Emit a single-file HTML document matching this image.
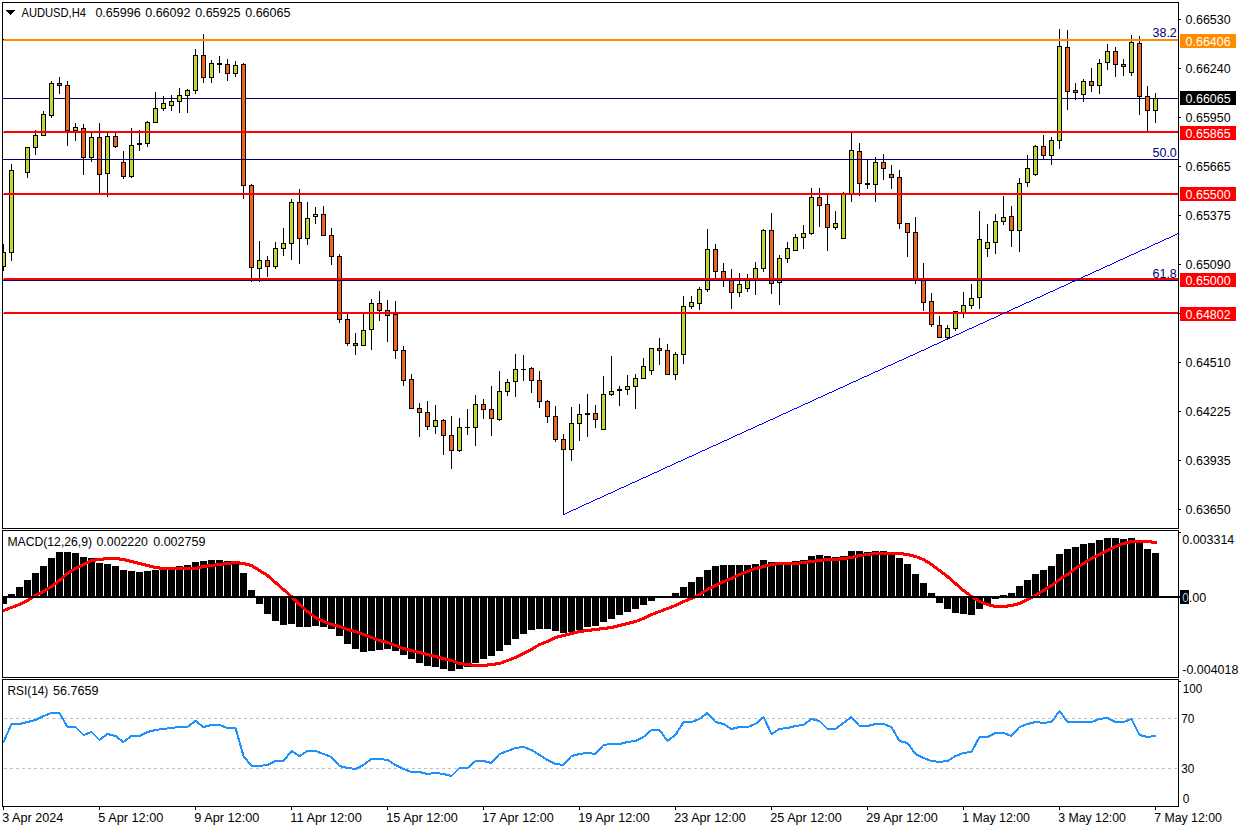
<!DOCTYPE html>
<html><head><meta charset="utf-8"><title>AUDUSD,H4</title>
<style>
html,body{margin:0;padding:0;background:#fff;}
body{width:1242px;height:830px;overflow:hidden;}
svg{display:block;}
svg text{font-family:"Liberation Sans",sans-serif;}
</style></head>
<body>
<svg width="1242" height="830" viewBox="0 0 1242 830" shape-rendering="crispEdges">
<rect x="0" y="0" width="1242" height="830" fill="#FFFFFF"/>
<defs><clipPath id="cm"><rect x="3" y="3" width="1175" height="525"/></clipPath><clipPath id="cmacd"><rect x="3" y="531" width="1175" height="146"/></clipPath><clipPath id="crsi"><rect x="3" y="680" width="1175" height="126"/></clipPath></defs>
<g clip-path="url(#cm)">
<rect x="3" y="98" width="1175" height="1" fill="#000080"/>
<rect x="3" y="244" width="1" height="27" fill="#000"/>
<rect x="1" y="252" width="5" height="15" fill="#000"/>
<rect x="2" y="253" width="3" height="13" fill="#BFD72F"/>
<rect x="11" y="164" width="1" height="97" fill="#000"/>
<rect x="9" y="170" width="5" height="83" fill="#000"/>
<rect x="10" y="171" width="3" height="81" fill="#BFD72F"/>
<rect x="27" y="147" width="1" height="31" fill="#000"/>
<rect x="25" y="147" width="5" height="26" fill="#000"/>
<rect x="26" y="148" width="3" height="24" fill="#BFD72F"/>
<rect x="35" y="130" width="1" height="25" fill="#000"/>
<rect x="33" y="135" width="5" height="13" fill="#000"/>
<rect x="34" y="136" width="3" height="11" fill="#BFD72F"/>
<rect x="43" y="111" width="1" height="24" fill="#000"/>
<rect x="41" y="114" width="5" height="22" fill="#000"/>
<rect x="42" y="115" width="3" height="20" fill="#BFD72F"/>
<rect x="51" y="81" width="1" height="37" fill="#000"/>
<rect x="49" y="83" width="5" height="33" fill="#000"/>
<rect x="50" y="84" width="3" height="31" fill="#BFD72F"/>
<rect x="59" y="77" width="1" height="17" fill="#000"/>
<rect x="57" y="83" width="5" height="3" fill="#000"/>
<rect x="58" y="84" width="3" height="1" fill="#F26321"/>
<rect x="67" y="81" width="1" height="65" fill="#000"/>
<rect x="65" y="85" width="5" height="46" fill="#000"/>
<rect x="66" y="86" width="3" height="44" fill="#F26321"/>
<rect x="75" y="123" width="1" height="18" fill="#000"/>
<rect x="73" y="127" width="5" height="4" fill="#000"/>
<rect x="74" y="128" width="3" height="2" fill="#BFD72F"/>
<rect x="83" y="124" width="1" height="51" fill="#000"/>
<rect x="81" y="128" width="5" height="30" fill="#000"/>
<rect x="82" y="129" width="3" height="28" fill="#F26321"/>
<rect x="91" y="133" width="1" height="29" fill="#000"/>
<rect x="89" y="137" width="5" height="21" fill="#000"/>
<rect x="90" y="138" width="3" height="19" fill="#BFD72F"/>
<rect x="99" y="123" width="1" height="70" fill="#000"/>
<rect x="97" y="137" width="5" height="38" fill="#000"/>
<rect x="98" y="138" width="3" height="36" fill="#F26321"/>
<rect x="107" y="133" width="1" height="64" fill="#000"/>
<rect x="105" y="136" width="5" height="38" fill="#000"/>
<rect x="106" y="137" width="3" height="36" fill="#BFD72F"/>
<rect x="115" y="133" width="1" height="15" fill="#000"/>
<rect x="113" y="136" width="5" height="11" fill="#000"/>
<rect x="114" y="137" width="3" height="9" fill="#F26321"/>
<rect x="123" y="151" width="1" height="28" fill="#000"/>
<rect x="121" y="162" width="5" height="15" fill="#000"/>
<rect x="122" y="163" width="3" height="13" fill="#F26321"/>
<rect x="131" y="128" width="1" height="50" fill="#000"/>
<rect x="129" y="145" width="5" height="32" fill="#000"/>
<rect x="130" y="146" width="3" height="30" fill="#BFD72F"/>
<rect x="139" y="130" width="1" height="21" fill="#000"/>
<rect x="137" y="143" width="5" height="2" fill="#000"/>
<rect x="147" y="121" width="1" height="26" fill="#000"/>
<rect x="145" y="122" width="5" height="22" fill="#000"/>
<rect x="146" y="123" width="3" height="20" fill="#BFD72F"/>
<rect x="155" y="92" width="1" height="31" fill="#000"/>
<rect x="153" y="108" width="5" height="15" fill="#000"/>
<rect x="154" y="109" width="3" height="13" fill="#BFD72F"/>
<rect x="163" y="96" width="1" height="15" fill="#000"/>
<rect x="161" y="103" width="5" height="6" fill="#000"/>
<rect x="162" y="104" width="3" height="4" fill="#BFD72F"/>
<rect x="171" y="95" width="1" height="16" fill="#000"/>
<rect x="169" y="101" width="5" height="5" fill="#000"/>
<rect x="170" y="102" width="3" height="3" fill="#BFD72F"/>
<rect x="179" y="88" width="1" height="25" fill="#000"/>
<rect x="177" y="95" width="5" height="7" fill="#000"/>
<rect x="178" y="96" width="3" height="5" fill="#BFD72F"/>
<rect x="187" y="89" width="1" height="24" fill="#000"/>
<rect x="185" y="90" width="5" height="6" fill="#000"/>
<rect x="186" y="91" width="3" height="4" fill="#BFD72F"/>
<rect x="195" y="49" width="1" height="45" fill="#000"/>
<rect x="193" y="55" width="5" height="36" fill="#000"/>
<rect x="194" y="56" width="3" height="34" fill="#BFD72F"/>
<rect x="203" y="34" width="1" height="49" fill="#000"/>
<rect x="201" y="55" width="5" height="23" fill="#000"/>
<rect x="202" y="56" width="3" height="21" fill="#F26321"/>
<rect x="211" y="60" width="1" height="23" fill="#000"/>
<rect x="209" y="63" width="5" height="15" fill="#000"/>
<rect x="210" y="64" width="3" height="13" fill="#BFD72F"/>
<rect x="219" y="56" width="1" height="17" fill="#000"/>
<rect x="217" y="63" width="5" height="2" fill="#000"/>
<rect x="227" y="59" width="1" height="22" fill="#000"/>
<rect x="225" y="64" width="5" height="10" fill="#000"/>
<rect x="226" y="65" width="3" height="8" fill="#F26321"/>
<rect x="235" y="61" width="1" height="16" fill="#000"/>
<rect x="233" y="65" width="5" height="9" fill="#000"/>
<rect x="234" y="66" width="3" height="7" fill="#BFD72F"/>
<rect x="243" y="63" width="1" height="136" fill="#000"/>
<rect x="241" y="64" width="5" height="122" fill="#000"/>
<rect x="242" y="65" width="3" height="120" fill="#F26321"/>
<rect x="251" y="184" width="1" height="98" fill="#000"/>
<rect x="249" y="185" width="5" height="83" fill="#000"/>
<rect x="250" y="186" width="3" height="81" fill="#F26321"/>
<rect x="259" y="241" width="1" height="41" fill="#000"/>
<rect x="257" y="260" width="5" height="9" fill="#000"/>
<rect x="258" y="261" width="3" height="7" fill="#BFD72F"/>
<rect x="267" y="256" width="1" height="21" fill="#000"/>
<rect x="265" y="260" width="5" height="7" fill="#000"/>
<rect x="266" y="261" width="3" height="5" fill="#F26321"/>
<rect x="275" y="242" width="1" height="27" fill="#000"/>
<rect x="273" y="248" width="5" height="19" fill="#000"/>
<rect x="274" y="249" width="3" height="17" fill="#BFD72F"/>
<rect x="283" y="228" width="1" height="28" fill="#000"/>
<rect x="281" y="243" width="5" height="6" fill="#000"/>
<rect x="282" y="244" width="3" height="4" fill="#BFD72F"/>
<rect x="291" y="199" width="1" height="61" fill="#000"/>
<rect x="289" y="202" width="5" height="42" fill="#000"/>
<rect x="290" y="203" width="3" height="40" fill="#BFD72F"/>
<rect x="299" y="189" width="1" height="75" fill="#000"/>
<rect x="297" y="202" width="5" height="37" fill="#000"/>
<rect x="298" y="203" width="3" height="35" fill="#F26321"/>
<rect x="307" y="202" width="1" height="43" fill="#000"/>
<rect x="305" y="218" width="5" height="21" fill="#000"/>
<rect x="306" y="219" width="3" height="19" fill="#BFD72F"/>
<rect x="315" y="207" width="1" height="17" fill="#000"/>
<rect x="313" y="214" width="5" height="3" fill="#000"/>
<rect x="314" y="215" width="3" height="1" fill="#BFD72F"/>
<rect x="323" y="206" width="1" height="29" fill="#000"/>
<rect x="321" y="214" width="5" height="22" fill="#000"/>
<rect x="322" y="215" width="3" height="20" fill="#F26321"/>
<rect x="331" y="228" width="1" height="37" fill="#000"/>
<rect x="329" y="235" width="5" height="22" fill="#000"/>
<rect x="330" y="236" width="3" height="20" fill="#F26321"/>
<rect x="339" y="254" width="1" height="69" fill="#000"/>
<rect x="337" y="256" width="5" height="64" fill="#000"/>
<rect x="338" y="257" width="3" height="62" fill="#F26321"/>
<rect x="347" y="314" width="1" height="32" fill="#000"/>
<rect x="345" y="319" width="5" height="25" fill="#000"/>
<rect x="346" y="320" width="3" height="23" fill="#F26321"/>
<rect x="355" y="333" width="1" height="22" fill="#000"/>
<rect x="353" y="343" width="5" height="3" fill="#000"/>
<rect x="354" y="344" width="3" height="1" fill="#F26321"/>
<rect x="363" y="314" width="1" height="31" fill="#000"/>
<rect x="361" y="330" width="5" height="16" fill="#000"/>
<rect x="362" y="331" width="3" height="14" fill="#BFD72F"/>
<rect x="371" y="299" width="1" height="51" fill="#000"/>
<rect x="369" y="303" width="5" height="27" fill="#000"/>
<rect x="370" y="304" width="3" height="25" fill="#BFD72F"/>
<rect x="379" y="291" width="1" height="30" fill="#000"/>
<rect x="377" y="303" width="5" height="8" fill="#000"/>
<rect x="378" y="304" width="3" height="6" fill="#F26321"/>
<rect x="387" y="300" width="1" height="42" fill="#000"/>
<rect x="385" y="310" width="5" height="6" fill="#000"/>
<rect x="386" y="311" width="3" height="4" fill="#F26321"/>
<rect x="395" y="301" width="1" height="58" fill="#000"/>
<rect x="393" y="314" width="5" height="37" fill="#000"/>
<rect x="394" y="315" width="3" height="35" fill="#F26321"/>
<rect x="403" y="346" width="1" height="40" fill="#000"/>
<rect x="401" y="350" width="5" height="31" fill="#000"/>
<rect x="402" y="351" width="3" height="29" fill="#F26321"/>
<rect x="411" y="374" width="1" height="34" fill="#000"/>
<rect x="409" y="379" width="5" height="30" fill="#000"/>
<rect x="410" y="380" width="3" height="28" fill="#F26321"/>
<rect x="419" y="403" width="1" height="34" fill="#000"/>
<rect x="417" y="408" width="5" height="5" fill="#000"/>
<rect x="418" y="409" width="3" height="3" fill="#F26321"/>
<rect x="427" y="401" width="1" height="29" fill="#000"/>
<rect x="425" y="412" width="5" height="15" fill="#000"/>
<rect x="426" y="413" width="3" height="13" fill="#F26321"/>
<rect x="435" y="405" width="1" height="29" fill="#000"/>
<rect x="433" y="420" width="5" height="7" fill="#000"/>
<rect x="434" y="421" width="3" height="5" fill="#BFD72F"/>
<rect x="443" y="419" width="1" height="36" fill="#000"/>
<rect x="441" y="420" width="5" height="16" fill="#000"/>
<rect x="442" y="421" width="3" height="14" fill="#F26321"/>
<rect x="451" y="416" width="1" height="53" fill="#000"/>
<rect x="449" y="435" width="5" height="16" fill="#000"/>
<rect x="450" y="436" width="3" height="14" fill="#F26321"/>
<rect x="459" y="418" width="1" height="34" fill="#000"/>
<rect x="457" y="427" width="5" height="24" fill="#000"/>
<rect x="458" y="428" width="3" height="22" fill="#BFD72F"/>
<rect x="467" y="409" width="1" height="26" fill="#000"/>
<rect x="465" y="427" width="5" height="1" fill="#000"/>
<rect x="475" y="395" width="1" height="51" fill="#000"/>
<rect x="473" y="404" width="5" height="24" fill="#000"/>
<rect x="474" y="405" width="3" height="22" fill="#BFD72F"/>
<rect x="483" y="399" width="1" height="20" fill="#000"/>
<rect x="481" y="404" width="5" height="6" fill="#000"/>
<rect x="482" y="405" width="3" height="4" fill="#F26321"/>
<rect x="491" y="386" width="1" height="50" fill="#000"/>
<rect x="489" y="409" width="5" height="10" fill="#000"/>
<rect x="490" y="410" width="3" height="8" fill="#F26321"/>
<rect x="499" y="371" width="1" height="50" fill="#000"/>
<rect x="497" y="391" width="5" height="29" fill="#000"/>
<rect x="498" y="392" width="3" height="27" fill="#BFD72F"/>
<rect x="507" y="379" width="1" height="17" fill="#000"/>
<rect x="505" y="382" width="5" height="10" fill="#000"/>
<rect x="506" y="383" width="3" height="8" fill="#BFD72F"/>
<rect x="515" y="354" width="1" height="43" fill="#000"/>
<rect x="513" y="369" width="5" height="13" fill="#000"/>
<rect x="514" y="370" width="3" height="11" fill="#BFD72F"/>
<rect x="523" y="355" width="1" height="26" fill="#000"/>
<rect x="521" y="369" width="5" height="1" fill="#000"/>
<rect x="531" y="367" width="1" height="26" fill="#000"/>
<rect x="529" y="368" width="5" height="13" fill="#000"/>
<rect x="530" y="369" width="3" height="11" fill="#F26321"/>
<rect x="539" y="371" width="1" height="37" fill="#000"/>
<rect x="537" y="380" width="5" height="22" fill="#000"/>
<rect x="538" y="381" width="3" height="20" fill="#F26321"/>
<rect x="547" y="400" width="1" height="23" fill="#000"/>
<rect x="545" y="401" width="5" height="16" fill="#000"/>
<rect x="546" y="402" width="3" height="14" fill="#F26321"/>
<rect x="555" y="406" width="1" height="36" fill="#000"/>
<rect x="553" y="416" width="5" height="24" fill="#000"/>
<rect x="554" y="417" width="3" height="22" fill="#F26321"/>
<rect x="563" y="434" width="1" height="81" fill="#000"/>
<rect x="561" y="439" width="5" height="11" fill="#000"/>
<rect x="562" y="440" width="3" height="9" fill="#F26321"/>
<rect x="571" y="407" width="1" height="54" fill="#000"/>
<rect x="569" y="423" width="5" height="27" fill="#000"/>
<rect x="570" y="424" width="3" height="25" fill="#BFD72F"/>
<rect x="579" y="404" width="1" height="37" fill="#000"/>
<rect x="577" y="414" width="5" height="10" fill="#000"/>
<rect x="578" y="415" width="3" height="8" fill="#BFD72F"/>
<rect x="587" y="394" width="1" height="43" fill="#000"/>
<rect x="585" y="413" width="5" height="2" fill="#000"/>
<rect x="595" y="405" width="1" height="23" fill="#000"/>
<rect x="593" y="413" width="5" height="7" fill="#000"/>
<rect x="594" y="414" width="3" height="5" fill="#F26321"/>
<rect x="603" y="376" width="1" height="54" fill="#000"/>
<rect x="601" y="394" width="5" height="36" fill="#000"/>
<rect x="602" y="395" width="3" height="34" fill="#BFD72F"/>
<rect x="611" y="356" width="1" height="40" fill="#000"/>
<rect x="609" y="391" width="5" height="4" fill="#000"/>
<rect x="610" y="392" width="3" height="2" fill="#BFD72F"/>
<rect x="619" y="386" width="1" height="20" fill="#000"/>
<rect x="617" y="389" width="5" height="2" fill="#000"/>
<rect x="627" y="375" width="1" height="20" fill="#000"/>
<rect x="625" y="386" width="5" height="4" fill="#000"/>
<rect x="626" y="387" width="3" height="2" fill="#BFD72F"/>
<rect x="635" y="374" width="1" height="35" fill="#000"/>
<rect x="633" y="378" width="5" height="9" fill="#000"/>
<rect x="634" y="379" width="3" height="7" fill="#BFD72F"/>
<rect x="643" y="358" width="1" height="21" fill="#000"/>
<rect x="641" y="366" width="5" height="13" fill="#000"/>
<rect x="642" y="367" width="3" height="11" fill="#BFD72F"/>
<rect x="651" y="348" width="1" height="27" fill="#000"/>
<rect x="649" y="348" width="5" height="23" fill="#000"/>
<rect x="650" y="349" width="3" height="21" fill="#BFD72F"/>
<rect x="659" y="338" width="1" height="27" fill="#000"/>
<rect x="657" y="348" width="5" height="3" fill="#000"/>
<rect x="658" y="349" width="3" height="1" fill="#F26321"/>
<rect x="667" y="344" width="1" height="31" fill="#000"/>
<rect x="665" y="350" width="5" height="25" fill="#000"/>
<rect x="666" y="351" width="3" height="23" fill="#F26321"/>
<rect x="675" y="352" width="1" height="28" fill="#000"/>
<rect x="673" y="354" width="5" height="21" fill="#000"/>
<rect x="674" y="355" width="3" height="19" fill="#BFD72F"/>
<rect x="683" y="296" width="1" height="68" fill="#000"/>
<rect x="681" y="306" width="5" height="49" fill="#000"/>
<rect x="682" y="307" width="3" height="47" fill="#BFD72F"/>
<rect x="691" y="296" width="1" height="13" fill="#000"/>
<rect x="689" y="302" width="5" height="5" fill="#000"/>
<rect x="690" y="303" width="3" height="3" fill="#BFD72F"/>
<rect x="699" y="287" width="1" height="23" fill="#000"/>
<rect x="697" y="289" width="5" height="15" fill="#000"/>
<rect x="698" y="290" width="3" height="13" fill="#BFD72F"/>
<rect x="707" y="229" width="1" height="63" fill="#000"/>
<rect x="705" y="249" width="5" height="41" fill="#000"/>
<rect x="706" y="250" width="3" height="39" fill="#BFD72F"/>
<rect x="715" y="244" width="1" height="34" fill="#000"/>
<rect x="713" y="249" width="5" height="23" fill="#000"/>
<rect x="714" y="250" width="3" height="21" fill="#F26321"/>
<rect x="723" y="263" width="1" height="24" fill="#000"/>
<rect x="721" y="271" width="5" height="8" fill="#000"/>
<rect x="722" y="272" width="3" height="6" fill="#F26321"/>
<rect x="731" y="269" width="1" height="40" fill="#000"/>
<rect x="729" y="280" width="5" height="13" fill="#000"/>
<rect x="730" y="281" width="3" height="11" fill="#F26321"/>
<rect x="739" y="273" width="1" height="24" fill="#000"/>
<rect x="737" y="284" width="5" height="9" fill="#000"/>
<rect x="738" y="285" width="3" height="7" fill="#BFD72F"/>
<rect x="747" y="274" width="1" height="18" fill="#000"/>
<rect x="745" y="280" width="5" height="9" fill="#000"/>
<rect x="746" y="281" width="3" height="7" fill="#BFD72F"/>
<rect x="755" y="262" width="1" height="33" fill="#000"/>
<rect x="753" y="268" width="5" height="11" fill="#000"/>
<rect x="754" y="269" width="3" height="9" fill="#BFD72F"/>
<rect x="763" y="229" width="1" height="43" fill="#000"/>
<rect x="761" y="230" width="5" height="39" fill="#000"/>
<rect x="762" y="231" width="3" height="37" fill="#BFD72F"/>
<rect x="771" y="213" width="1" height="81" fill="#000"/>
<rect x="769" y="230" width="5" height="54" fill="#000"/>
<rect x="770" y="231" width="3" height="52" fill="#F26321"/>
<rect x="779" y="255" width="1" height="50" fill="#000"/>
<rect x="777" y="258" width="5" height="25" fill="#000"/>
<rect x="778" y="259" width="3" height="23" fill="#BFD72F"/>
<rect x="787" y="242" width="1" height="21" fill="#000"/>
<rect x="785" y="248" width="5" height="11" fill="#000"/>
<rect x="786" y="249" width="3" height="9" fill="#BFD72F"/>
<rect x="795" y="234" width="1" height="16" fill="#000"/>
<rect x="793" y="237" width="5" height="14" fill="#000"/>
<rect x="794" y="238" width="3" height="12" fill="#BFD72F"/>
<rect x="803" y="225" width="1" height="24" fill="#000"/>
<rect x="801" y="233" width="5" height="5" fill="#000"/>
<rect x="802" y="234" width="3" height="3" fill="#BFD72F"/>
<rect x="811" y="188" width="1" height="47" fill="#000"/>
<rect x="809" y="197" width="5" height="37" fill="#000"/>
<rect x="810" y="198" width="3" height="35" fill="#BFD72F"/>
<rect x="819" y="188" width="1" height="39" fill="#000"/>
<rect x="817" y="197" width="5" height="9" fill="#000"/>
<rect x="818" y="198" width="3" height="7" fill="#F26321"/>
<rect x="827" y="195" width="1" height="56" fill="#000"/>
<rect x="825" y="204" width="5" height="24" fill="#000"/>
<rect x="826" y="205" width="3" height="22" fill="#F26321"/>
<rect x="835" y="211" width="1" height="19" fill="#000"/>
<rect x="833" y="223" width="5" height="5" fill="#000"/>
<rect x="834" y="224" width="3" height="3" fill="#BFD72F"/>
<rect x="843" y="192" width="1" height="47" fill="#000"/>
<rect x="841" y="194" width="5" height="45" fill="#000"/>
<rect x="842" y="195" width="3" height="43" fill="#BFD72F"/>
<rect x="851" y="133" width="1" height="69" fill="#000"/>
<rect x="849" y="150" width="5" height="44" fill="#000"/>
<rect x="850" y="151" width="3" height="42" fill="#BFD72F"/>
<rect x="859" y="143" width="1" height="53" fill="#000"/>
<rect x="857" y="151" width="5" height="33" fill="#000"/>
<rect x="858" y="152" width="3" height="31" fill="#F26321"/>
<rect x="867" y="159" width="1" height="30" fill="#000"/>
<rect x="865" y="183" width="5" height="2" fill="#000"/>
<rect x="875" y="157" width="1" height="45" fill="#000"/>
<rect x="873" y="162" width="5" height="23" fill="#000"/>
<rect x="874" y="163" width="3" height="21" fill="#BFD72F"/>
<rect x="883" y="154" width="1" height="26" fill="#000"/>
<rect x="881" y="162" width="5" height="7" fill="#000"/>
<rect x="882" y="163" width="3" height="5" fill="#F26321"/>
<rect x="891" y="165" width="1" height="24" fill="#000"/>
<rect x="889" y="174" width="5" height="4" fill="#000"/>
<rect x="890" y="175" width="3" height="2" fill="#F26321"/>
<rect x="899" y="170" width="1" height="59" fill="#000"/>
<rect x="897" y="177" width="5" height="47" fill="#000"/>
<rect x="898" y="178" width="3" height="45" fill="#F26321"/>
<rect x="907" y="223" width="1" height="34" fill="#000"/>
<rect x="905" y="223" width="5" height="10" fill="#000"/>
<rect x="906" y="224" width="3" height="8" fill="#F26321"/>
<rect x="915" y="217" width="1" height="67" fill="#000"/>
<rect x="913" y="232" width="5" height="47" fill="#000"/>
<rect x="914" y="233" width="3" height="45" fill="#F26321"/>
<rect x="923" y="263" width="1" height="48" fill="#000"/>
<rect x="921" y="280" width="5" height="23" fill="#000"/>
<rect x="922" y="281" width="3" height="21" fill="#F26321"/>
<rect x="931" y="293" width="1" height="34" fill="#000"/>
<rect x="929" y="301" width="5" height="24" fill="#000"/>
<rect x="930" y="302" width="3" height="22" fill="#F26321"/>
<rect x="939" y="316" width="1" height="22" fill="#000"/>
<rect x="937" y="325" width="5" height="13" fill="#000"/>
<rect x="938" y="326" width="3" height="11" fill="#F26321"/>
<rect x="947" y="325" width="1" height="14" fill="#000"/>
<rect x="945" y="328" width="5" height="10" fill="#000"/>
<rect x="946" y="329" width="3" height="8" fill="#BFD72F"/>
<rect x="955" y="311" width="1" height="20" fill="#000"/>
<rect x="953" y="311" width="5" height="18" fill="#000"/>
<rect x="954" y="312" width="3" height="16" fill="#BFD72F"/>
<rect x="963" y="292" width="1" height="26" fill="#000"/>
<rect x="961" y="305" width="5" height="8" fill="#000"/>
<rect x="962" y="306" width="3" height="6" fill="#BFD72F"/>
<rect x="971" y="284" width="1" height="25" fill="#000"/>
<rect x="969" y="298" width="5" height="8" fill="#000"/>
<rect x="970" y="299" width="3" height="6" fill="#BFD72F"/>
<rect x="979" y="211" width="1" height="98" fill="#000"/>
<rect x="977" y="239" width="5" height="59" fill="#000"/>
<rect x="978" y="240" width="3" height="57" fill="#BFD72F"/>
<rect x="987" y="224" width="1" height="33" fill="#000"/>
<rect x="985" y="242" width="5" height="7" fill="#000"/>
<rect x="986" y="243" width="3" height="5" fill="#BFD72F"/>
<rect x="995" y="214" width="1" height="40" fill="#000"/>
<rect x="993" y="221" width="5" height="22" fill="#000"/>
<rect x="994" y="222" width="3" height="20" fill="#BFD72F"/>
<rect x="1003" y="196" width="1" height="29" fill="#000"/>
<rect x="1001" y="217" width="5" height="5" fill="#000"/>
<rect x="1002" y="218" width="3" height="3" fill="#BFD72F"/>
<rect x="1011" y="206" width="1" height="41" fill="#000"/>
<rect x="1009" y="216" width="5" height="15" fill="#000"/>
<rect x="1010" y="217" width="3" height="13" fill="#F26321"/>
<rect x="1019" y="178" width="1" height="74" fill="#000"/>
<rect x="1017" y="183" width="5" height="48" fill="#000"/>
<rect x="1018" y="184" width="3" height="46" fill="#BFD72F"/>
<rect x="1027" y="155" width="1" height="32" fill="#000"/>
<rect x="1025" y="168" width="5" height="15" fill="#000"/>
<rect x="1026" y="169" width="3" height="13" fill="#BFD72F"/>
<rect x="1035" y="145" width="1" height="31" fill="#000"/>
<rect x="1033" y="146" width="5" height="29" fill="#000"/>
<rect x="1034" y="147" width="3" height="27" fill="#BFD72F"/>
<rect x="1043" y="135" width="1" height="24" fill="#000"/>
<rect x="1041" y="146" width="5" height="10" fill="#000"/>
<rect x="1042" y="147" width="3" height="8" fill="#F26321"/>
<rect x="1051" y="137" width="1" height="28" fill="#000"/>
<rect x="1049" y="140" width="5" height="16" fill="#000"/>
<rect x="1050" y="141" width="3" height="14" fill="#BFD72F"/>
<rect x="1059" y="29" width="1" height="120" fill="#000"/>
<rect x="1057" y="46" width="5" height="95" fill="#000"/>
<rect x="1058" y="47" width="3" height="93" fill="#BFD72F"/>
<rect x="1067" y="30" width="1" height="80" fill="#000"/>
<rect x="1065" y="47" width="5" height="45" fill="#000"/>
<rect x="1066" y="48" width="3" height="43" fill="#F26321"/>
<rect x="1075" y="83" width="1" height="17" fill="#000"/>
<rect x="1073" y="90" width="5" height="3" fill="#000"/>
<rect x="1074" y="91" width="3" height="1" fill="#F26321"/>
<rect x="1083" y="79" width="1" height="23" fill="#000"/>
<rect x="1081" y="81" width="5" height="14" fill="#000"/>
<rect x="1082" y="82" width="3" height="12" fill="#BFD72F"/>
<rect x="1091" y="68" width="1" height="24" fill="#000"/>
<rect x="1089" y="81" width="5" height="5" fill="#000"/>
<rect x="1090" y="82" width="3" height="3" fill="#F26321"/>
<rect x="1099" y="59" width="1" height="35" fill="#000"/>
<rect x="1097" y="63" width="5" height="23" fill="#000"/>
<rect x="1098" y="64" width="3" height="21" fill="#BFD72F"/>
<rect x="1107" y="44" width="1" height="26" fill="#000"/>
<rect x="1105" y="51" width="5" height="12" fill="#000"/>
<rect x="1106" y="52" width="3" height="10" fill="#BFD72F"/>
<rect x="1115" y="47" width="1" height="30" fill="#000"/>
<rect x="1113" y="51" width="5" height="14" fill="#000"/>
<rect x="1114" y="52" width="3" height="12" fill="#F26321"/>
<rect x="1123" y="59" width="1" height="17" fill="#000"/>
<rect x="1121" y="64" width="5" height="3" fill="#000"/>
<rect x="1122" y="65" width="3" height="1" fill="#F26321"/>
<rect x="1131" y="35" width="1" height="41" fill="#000"/>
<rect x="1129" y="42" width="5" height="31" fill="#000"/>
<rect x="1130" y="43" width="3" height="29" fill="#BFD72F"/>
<rect x="1139" y="36" width="1" height="79" fill="#000"/>
<rect x="1137" y="43" width="5" height="54" fill="#000"/>
<rect x="1138" y="44" width="3" height="52" fill="#F26321"/>
<rect x="1147" y="86" width="1" height="45" fill="#000"/>
<rect x="1145" y="96" width="5" height="15" fill="#000"/>
<rect x="1146" y="97" width="3" height="13" fill="#F26321"/>
<rect x="1155" y="93" width="1" height="30" fill="#000"/>
<rect x="1153" y="98" width="5" height="13" fill="#000"/>
<rect x="1154" y="99" width="3" height="11" fill="#BFD72F"/>
<rect x="3" y="39" width="1175" height="1" fill="#000080"/>
<rect x="3" y="159" width="1175" height="1" fill="#000080"/>
<rect x="3" y="280" width="1175" height="1" fill="#000080"/>
<rect x="4" y="131" width="1174" height="1" fill="#FF0000"/>
<rect x="3" y="132" width="1175" height="1" fill="#FF0000"/>
<rect x="4" y="193" width="1174" height="1" fill="#FF0000"/>
<rect x="3" y="194" width="1175" height="1" fill="#FF0000"/>
<rect x="4" y="278" width="1174" height="1" fill="#FF0000"/>
<rect x="3" y="279" width="1175" height="1" fill="#FF0000"/>
<rect x="4" y="312" width="1174" height="1" fill="#FF0000"/>
<rect x="3" y="313" width="1175" height="1" fill="#FF0000"/>
<rect x="4" y="39" width="1174" height="1" fill="#FF8C00"/>
<rect x="3" y="40" width="1175" height="1" fill="#FF8C00"/>
<g fill="#0000FF">
<rect x="563" y="514" width="2" height="1"/>
<rect x="565" y="513" width="2" height="1"/>
<rect x="567" y="512" width="2" height="1"/>
<rect x="569" y="511" width="2" height="1"/>
<rect x="571" y="510" width="2" height="1"/>
<rect x="573" y="509" width="3" height="1"/>
<rect x="576" y="508" width="2" height="1"/>
<rect x="578" y="507" width="2" height="1"/>
<rect x="580" y="506" width="2" height="1"/>
<rect x="582" y="505" width="2" height="1"/>
<rect x="584" y="504" width="2" height="1"/>
<rect x="586" y="503" width="3" height="1"/>
<rect x="589" y="502" width="2" height="1"/>
<rect x="591" y="501" width="2" height="1"/>
<rect x="593" y="500" width="2" height="1"/>
<rect x="595" y="499" width="2" height="1"/>
<rect x="597" y="498" width="3" height="1"/>
<rect x="600" y="497" width="2" height="1"/>
<rect x="602" y="496" width="2" height="1"/>
<rect x="604" y="495" width="2" height="1"/>
<rect x="606" y="494" width="2" height="1"/>
<rect x="608" y="493" width="3" height="1"/>
<rect x="611" y="492" width="2" height="1"/>
<rect x="613" y="491" width="2" height="1"/>
<rect x="615" y="490" width="2" height="1"/>
<rect x="617" y="489" width="2" height="1"/>
<rect x="619" y="488" width="2" height="1"/>
<rect x="621" y="487" width="3" height="1"/>
<rect x="624" y="486" width="2" height="1"/>
<rect x="626" y="485" width="2" height="1"/>
<rect x="628" y="484" width="2" height="1"/>
<rect x="630" y="483" width="2" height="1"/>
<rect x="632" y="482" width="3" height="1"/>
<rect x="635" y="481" width="2" height="1"/>
<rect x="637" y="480" width="2" height="1"/>
<rect x="639" y="479" width="2" height="1"/>
<rect x="641" y="478" width="2" height="1"/>
<rect x="643" y="477" width="3" height="1"/>
<rect x="646" y="476" width="2" height="1"/>
<rect x="648" y="475" width="2" height="1"/>
<rect x="650" y="474" width="2" height="1"/>
<rect x="652" y="473" width="2" height="1"/>
<rect x="654" y="472" width="3" height="1"/>
<rect x="657" y="471" width="2" height="1"/>
<rect x="659" y="470" width="2" height="1"/>
<rect x="661" y="469" width="2" height="1"/>
<rect x="663" y="468" width="2" height="1"/>
<rect x="665" y="467" width="2" height="1"/>
<rect x="667" y="466" width="3" height="1"/>
<rect x="670" y="465" width="2" height="1"/>
<rect x="672" y="464" width="2" height="1"/>
<rect x="674" y="463" width="2" height="1"/>
<rect x="676" y="462" width="2" height="1"/>
<rect x="678" y="461" width="3" height="1"/>
<rect x="681" y="460" width="2" height="1"/>
<rect x="683" y="459" width="2" height="1"/>
<rect x="685" y="458" width="2" height="1"/>
<rect x="687" y="457" width="2" height="1"/>
<rect x="689" y="456" width="3" height="1"/>
<rect x="692" y="455" width="2" height="1"/>
<rect x="694" y="454" width="2" height="1"/>
<rect x="696" y="453" width="2" height="1"/>
<rect x="698" y="452" width="2" height="1"/>
<rect x="700" y="451" width="2" height="1"/>
<rect x="702" y="450" width="3" height="1"/>
<rect x="705" y="449" width="2" height="1"/>
<rect x="707" y="448" width="2" height="1"/>
<rect x="709" y="447" width="2" height="1"/>
<rect x="711" y="446" width="2" height="1"/>
<rect x="713" y="445" width="3" height="1"/>
<rect x="716" y="444" width="2" height="1"/>
<rect x="718" y="443" width="2" height="1"/>
<rect x="720" y="442" width="2" height="1"/>
<rect x="722" y="441" width="2" height="1"/>
<rect x="724" y="440" width="3" height="1"/>
<rect x="727" y="439" width="2" height="1"/>
<rect x="729" y="438" width="2" height="1"/>
<rect x="731" y="437" width="2" height="1"/>
<rect x="733" y="436" width="2" height="1"/>
<rect x="735" y="435" width="2" height="1"/>
<rect x="737" y="434" width="3" height="1"/>
<rect x="740" y="433" width="2" height="1"/>
<rect x="742" y="432" width="2" height="1"/>
<rect x="744" y="431" width="2" height="1"/>
<rect x="746" y="430" width="2" height="1"/>
<rect x="748" y="429" width="3" height="1"/>
<rect x="751" y="428" width="2" height="1"/>
<rect x="753" y="427" width="2" height="1"/>
<rect x="755" y="426" width="2" height="1"/>
<rect x="757" y="425" width="2" height="1"/>
<rect x="759" y="424" width="3" height="1"/>
<rect x="762" y="423" width="2" height="1"/>
<rect x="764" y="422" width="2" height="1"/>
<rect x="766" y="421" width="2" height="1"/>
<rect x="768" y="420" width="2" height="1"/>
<rect x="770" y="419" width="3" height="1"/>
<rect x="773" y="418" width="2" height="1"/>
<rect x="775" y="417" width="2" height="1"/>
<rect x="777" y="416" width="2" height="1"/>
<rect x="779" y="415" width="2" height="1"/>
<rect x="781" y="414" width="2" height="1"/>
<rect x="783" y="413" width="3" height="1"/>
<rect x="786" y="412" width="2" height="1"/>
<rect x="788" y="411" width="2" height="1"/>
<rect x="790" y="410" width="2" height="1"/>
<rect x="792" y="409" width="2" height="1"/>
<rect x="794" y="408" width="3" height="1"/>
<rect x="797" y="407" width="2" height="1"/>
<rect x="799" y="406" width="2" height="1"/>
<rect x="801" y="405" width="2" height="1"/>
<rect x="803" y="404" width="2" height="1"/>
<rect x="805" y="403" width="3" height="1"/>
<rect x="808" y="402" width="2" height="1"/>
<rect x="810" y="401" width="2" height="1"/>
<rect x="812" y="400" width="2" height="1"/>
<rect x="814" y="399" width="2" height="1"/>
<rect x="816" y="398" width="2" height="1"/>
<rect x="818" y="397" width="3" height="1"/>
<rect x="821" y="396" width="2" height="1"/>
<rect x="823" y="395" width="2" height="1"/>
<rect x="825" y="394" width="2" height="1"/>
<rect x="827" y="393" width="2" height="1"/>
<rect x="829" y="392" width="3" height="1"/>
<rect x="832" y="391" width="2" height="1"/>
<rect x="834" y="390" width="2" height="1"/>
<rect x="836" y="389" width="2" height="1"/>
<rect x="838" y="388" width="2" height="1"/>
<rect x="840" y="387" width="3" height="1"/>
<rect x="843" y="386" width="2" height="1"/>
<rect x="845" y="385" width="2" height="1"/>
<rect x="847" y="384" width="2" height="1"/>
<rect x="849" y="383" width="2" height="1"/>
<rect x="851" y="382" width="2" height="1"/>
<rect x="853" y="381" width="3" height="1"/>
<rect x="856" y="380" width="2" height="1"/>
<rect x="858" y="379" width="2" height="1"/>
<rect x="860" y="378" width="2" height="1"/>
<rect x="862" y="377" width="2" height="1"/>
<rect x="864" y="376" width="3" height="1"/>
<rect x="867" y="375" width="2" height="1"/>
<rect x="869" y="374" width="2" height="1"/>
<rect x="871" y="373" width="2" height="1"/>
<rect x="873" y="372" width="2" height="1"/>
<rect x="875" y="371" width="3" height="1"/>
<rect x="878" y="370" width="2" height="1"/>
<rect x="880" y="369" width="2" height="1"/>
<rect x="882" y="368" width="2" height="1"/>
<rect x="884" y="367" width="2" height="1"/>
<rect x="886" y="366" width="2" height="1"/>
<rect x="888" y="365" width="3" height="1"/>
<rect x="891" y="364" width="2" height="1"/>
<rect x="893" y="363" width="2" height="1"/>
<rect x="895" y="362" width="2" height="1"/>
<rect x="897" y="361" width="2" height="1"/>
<rect x="899" y="360" width="3" height="1"/>
<rect x="902" y="359" width="2" height="1"/>
<rect x="904" y="358" width="2" height="1"/>
<rect x="906" y="357" width="2" height="1"/>
<rect x="908" y="356" width="2" height="1"/>
<rect x="910" y="355" width="3" height="1"/>
<rect x="913" y="354" width="2" height="1"/>
<rect x="915" y="353" width="2" height="1"/>
<rect x="917" y="352" width="2" height="1"/>
<rect x="919" y="351" width="2" height="1"/>
<rect x="921" y="350" width="3" height="1"/>
<rect x="924" y="349" width="2" height="1"/>
<rect x="926" y="348" width="2" height="1"/>
<rect x="928" y="347" width="2" height="1"/>
<rect x="930" y="346" width="2" height="1"/>
<rect x="932" y="345" width="2" height="1"/>
<rect x="934" y="344" width="3" height="1"/>
<rect x="937" y="343" width="2" height="1"/>
<rect x="939" y="342" width="2" height="1"/>
<rect x="941" y="341" width="2" height="1"/>
<rect x="943" y="340" width="2" height="1"/>
<rect x="945" y="339" width="3" height="1"/>
<rect x="948" y="338" width="2" height="1"/>
<rect x="950" y="337" width="2" height="1"/>
<rect x="952" y="336" width="2" height="1"/>
<rect x="954" y="335" width="2" height="1"/>
<rect x="956" y="334" width="3" height="1"/>
<rect x="959" y="333" width="2" height="1"/>
<rect x="961" y="332" width="2" height="1"/>
<rect x="963" y="331" width="2" height="1"/>
<rect x="965" y="330" width="2" height="1"/>
<rect x="967" y="329" width="2" height="1"/>
<rect x="969" y="328" width="3" height="1"/>
<rect x="972" y="327" width="2" height="1"/>
<rect x="974" y="326" width="2" height="1"/>
<rect x="976" y="325" width="2" height="1"/>
<rect x="978" y="324" width="2" height="1"/>
<rect x="980" y="323" width="3" height="1"/>
<rect x="983" y="322" width="2" height="1"/>
<rect x="985" y="321" width="2" height="1"/>
<rect x="987" y="320" width="2" height="1"/>
<rect x="989" y="319" width="2" height="1"/>
<rect x="991" y="318" width="3" height="1"/>
<rect x="994" y="317" width="2" height="1"/>
<rect x="996" y="316" width="2" height="1"/>
<rect x="998" y="315" width="2" height="1"/>
<rect x="1000" y="314" width="2" height="1"/>
<rect x="1002" y="313" width="2" height="1"/>
<rect x="1004" y="312" width="3" height="1"/>
<rect x="1007" y="311" width="2" height="1"/>
<rect x="1009" y="310" width="2" height="1"/>
<rect x="1011" y="309" width="2" height="1"/>
<rect x="1013" y="308" width="2" height="1"/>
<rect x="1015" y="307" width="3" height="1"/>
<rect x="1018" y="306" width="2" height="1"/>
<rect x="1020" y="305" width="2" height="1"/>
<rect x="1022" y="304" width="2" height="1"/>
<rect x="1024" y="303" width="2" height="1"/>
<rect x="1026" y="302" width="3" height="1"/>
<rect x="1029" y="301" width="2" height="1"/>
<rect x="1031" y="300" width="2" height="1"/>
<rect x="1033" y="299" width="2" height="1"/>
<rect x="1035" y="298" width="2" height="1"/>
<rect x="1037" y="297" width="3" height="1"/>
<rect x="1040" y="296" width="2" height="1"/>
<rect x="1042" y="295" width="2" height="1"/>
<rect x="1044" y="294" width="2" height="1"/>
<rect x="1046" y="293" width="2" height="1"/>
<rect x="1048" y="292" width="2" height="1"/>
<rect x="1050" y="291" width="3" height="1"/>
<rect x="1053" y="290" width="2" height="1"/>
<rect x="1055" y="289" width="2" height="1"/>
<rect x="1057" y="288" width="2" height="1"/>
<rect x="1059" y="287" width="2" height="1"/>
<rect x="1061" y="286" width="3" height="1"/>
<rect x="1064" y="285" width="2" height="1"/>
<rect x="1066" y="284" width="2" height="1"/>
<rect x="1068" y="283" width="2" height="1"/>
<rect x="1070" y="282" width="2" height="1"/>
<rect x="1072" y="281" width="3" height="1"/>
<rect x="1075" y="280" width="2" height="1"/>
<rect x="1077" y="279" width="2" height="1"/>
<rect x="1079" y="278" width="2" height="1"/>
<rect x="1081" y="277" width="2" height="1"/>
<rect x="1083" y="276" width="2" height="1"/>
<rect x="1085" y="275" width="3" height="1"/>
<rect x="1088" y="274" width="2" height="1"/>
<rect x="1090" y="273" width="2" height="1"/>
<rect x="1092" y="272" width="2" height="1"/>
<rect x="1094" y="271" width="2" height="1"/>
<rect x="1096" y="270" width="3" height="1"/>
<rect x="1099" y="269" width="2" height="1"/>
<rect x="1101" y="268" width="2" height="1"/>
<rect x="1103" y="267" width="2" height="1"/>
<rect x="1105" y="266" width="2" height="1"/>
<rect x="1107" y="265" width="3" height="1"/>
<rect x="1110" y="264" width="2" height="1"/>
<rect x="1112" y="263" width="2" height="1"/>
<rect x="1114" y="262" width="2" height="1"/>
<rect x="1116" y="261" width="2" height="1"/>
<rect x="1118" y="260" width="2" height="1"/>
<rect x="1120" y="259" width="3" height="1"/>
<rect x="1123" y="258" width="2" height="1"/>
<rect x="1125" y="257" width="2" height="1"/>
<rect x="1127" y="256" width="2" height="1"/>
<rect x="1129" y="255" width="2" height="1"/>
<rect x="1131" y="254" width="3" height="1"/>
<rect x="1134" y="253" width="2" height="1"/>
<rect x="1136" y="252" width="2" height="1"/>
<rect x="1138" y="251" width="2" height="1"/>
<rect x="1140" y="250" width="2" height="1"/>
<rect x="1142" y="249" width="3" height="1"/>
<rect x="1145" y="248" width="2" height="1"/>
<rect x="1147" y="247" width="2" height="1"/>
<rect x="1149" y="246" width="2" height="1"/>
<rect x="1151" y="245" width="2" height="1"/>
<rect x="1153" y="244" width="2" height="1"/>
<rect x="1155" y="243" width="3" height="1"/>
<rect x="1158" y="242" width="2" height="1"/>
<rect x="1160" y="241" width="2" height="1"/>
<rect x="1162" y="240" width="2" height="1"/>
<rect x="1164" y="239" width="2" height="1"/>
<rect x="1166" y="238" width="3" height="1"/>
<rect x="1169" y="237" width="2" height="1"/>
<rect x="1171" y="236" width="2" height="1"/>
<rect x="1173" y="235" width="2" height="1"/>
<rect x="1175" y="234" width="2" height="1"/>
<rect x="1177" y="233" width="1" height="1"/>
</g>
</g>
<text x="1152.5" y="37" fill="#000080" font-size="12" textLength="24.3" lengthAdjust="spacingAndGlyphs" >38.2</text>
<text x="1152.5" y="157" fill="#000080" font-size="12" textLength="24.3" lengthAdjust="spacingAndGlyphs" >50.0</text>
<text x="1152.5" y="278" fill="#000080" font-size="12" textLength="24.3" lengthAdjust="spacingAndGlyphs" >61.8</text>
<g clip-path="url(#cmacd)">
<rect x="0" y="596" width="7" height="8" fill="#000"/>
<rect x="8" y="594" width="7" height="4" fill="#000"/>
<rect x="16" y="587" width="7" height="11" fill="#000"/>
<rect x="24" y="580" width="7" height="18" fill="#000"/>
<rect x="32" y="573" width="7" height="25" fill="#000"/>
<rect x="40" y="566" width="7" height="32" fill="#000"/>
<rect x="48" y="558" width="7" height="40" fill="#000"/>
<rect x="56" y="552" width="7" height="46" fill="#000"/>
<rect x="64" y="552" width="7" height="46" fill="#000"/>
<rect x="72" y="553" width="7" height="45" fill="#000"/>
<rect x="80" y="557" width="7" height="41" fill="#000"/>
<rect x="88" y="558" width="7" height="40" fill="#000"/>
<rect x="96" y="563" width="7" height="35" fill="#000"/>
<rect x="104" y="564" width="7" height="34" fill="#000"/>
<rect x="112" y="566" width="7" height="32" fill="#000"/>
<rect x="120" y="570" width="7" height="28" fill="#000"/>
<rect x="128" y="571" width="7" height="27" fill="#000"/>
<rect x="136" y="572" width="7" height="26" fill="#000"/>
<rect x="144" y="571" width="7" height="27" fill="#000"/>
<rect x="152" y="570" width="7" height="28" fill="#000"/>
<rect x="160" y="569" width="7" height="29" fill="#000"/>
<rect x="168" y="567" width="7" height="31" fill="#000"/>
<rect x="176" y="566" width="7" height="32" fill="#000"/>
<rect x="184" y="565" width="7" height="33" fill="#000"/>
<rect x="192" y="562" width="7" height="36" fill="#000"/>
<rect x="200" y="561" width="7" height="37" fill="#000"/>
<rect x="208" y="560" width="7" height="38" fill="#000"/>
<rect x="216" y="560" width="7" height="38" fill="#000"/>
<rect x="224" y="561" width="7" height="37" fill="#000"/>
<rect x="232" y="561" width="7" height="37" fill="#000"/>
<rect x="240" y="573" width="7" height="25" fill="#000"/>
<rect x="248" y="590" width="7" height="8" fill="#000"/>
<rect x="256" y="596" width="7" height="8" fill="#000"/>
<rect x="264" y="596" width="7" height="18" fill="#000"/>
<rect x="272" y="596" width="7" height="25" fill="#000"/>
<rect x="280" y="596" width="7" height="29" fill="#000"/>
<rect x="288" y="596" width="7" height="28" fill="#000"/>
<rect x="296" y="596" width="7" height="31" fill="#000"/>
<rect x="304" y="596" width="7" height="31" fill="#000"/>
<rect x="312" y="596" width="7" height="30" fill="#000"/>
<rect x="320" y="596" width="7" height="31" fill="#000"/>
<rect x="328" y="596" width="7" height="33" fill="#000"/>
<rect x="336" y="596" width="7" height="40" fill="#000"/>
<rect x="344" y="596" width="7" height="48" fill="#000"/>
<rect x="352" y="596" width="7" height="53" fill="#000"/>
<rect x="360" y="596" width="7" height="56" fill="#000"/>
<rect x="368" y="596" width="7" height="55" fill="#000"/>
<rect x="376" y="596" width="7" height="54" fill="#000"/>
<rect x="384" y="596" width="7" height="53" fill="#000"/>
<rect x="392" y="596" width="7" height="55" fill="#000"/>
<rect x="400" y="596" width="7" height="59" fill="#000"/>
<rect x="408" y="596" width="7" height="63" fill="#000"/>
<rect x="416" y="596" width="7" height="67" fill="#000"/>
<rect x="424" y="596" width="7" height="70" fill="#000"/>
<rect x="432" y="596" width="7" height="71" fill="#000"/>
<rect x="440" y="596" width="7" height="73" fill="#000"/>
<rect x="448" y="596" width="7" height="75" fill="#000"/>
<rect x="456" y="596" width="7" height="73" fill="#000"/>
<rect x="464" y="596" width="7" height="71" fill="#000"/>
<rect x="472" y="596" width="7" height="67" fill="#000"/>
<rect x="480" y="596" width="7" height="63" fill="#000"/>
<rect x="488" y="596" width="7" height="60" fill="#000"/>
<rect x="496" y="596" width="7" height="55" fill="#000"/>
<rect x="504" y="596" width="7" height="49" fill="#000"/>
<rect x="512" y="596" width="7" height="43" fill="#000"/>
<rect x="520" y="596" width="7" height="38" fill="#000"/>
<rect x="528" y="596" width="7" height="34" fill="#000"/>
<rect x="536" y="596" width="7" height="33" fill="#000"/>
<rect x="544" y="596" width="7" height="33" fill="#000"/>
<rect x="552" y="596" width="7" height="35" fill="#000"/>
<rect x="560" y="596" width="7" height="37" fill="#000"/>
<rect x="568" y="596" width="7" height="36" fill="#000"/>
<rect x="576" y="596" width="7" height="34" fill="#000"/>
<rect x="584" y="596" width="7" height="31" fill="#000"/>
<rect x="592" y="596" width="7" height="30" fill="#000"/>
<rect x="600" y="596" width="7" height="26" fill="#000"/>
<rect x="608" y="596" width="7" height="23" fill="#000"/>
<rect x="616" y="596" width="7" height="19" fill="#000"/>
<rect x="624" y="596" width="7" height="16" fill="#000"/>
<rect x="632" y="596" width="7" height="13" fill="#000"/>
<rect x="640" y="596" width="7" height="9" fill="#000"/>
<rect x="648" y="596" width="7" height="5" fill="#000"/>
<rect x="656" y="596" width="7" height="2" fill="#000"/>
<rect x="664" y="596" width="7" height="2" fill="#000"/>
<rect x="672" y="593" width="7" height="5" fill="#000"/>
<rect x="680" y="587" width="7" height="11" fill="#000"/>
<rect x="688" y="582" width="7" height="16" fill="#000"/>
<rect x="696" y="577" width="7" height="21" fill="#000"/>
<rect x="704" y="570" width="7" height="28" fill="#000"/>
<rect x="712" y="566" width="7" height="32" fill="#000"/>
<rect x="720" y="565" width="7" height="33" fill="#000"/>
<rect x="728" y="565" width="7" height="33" fill="#000"/>
<rect x="736" y="565" width="7" height="33" fill="#000"/>
<rect x="744" y="565" width="7" height="33" fill="#000"/>
<rect x="752" y="564" width="7" height="34" fill="#000"/>
<rect x="760" y="560" width="7" height="38" fill="#000"/>
<rect x="768" y="562" width="7" height="36" fill="#000"/>
<rect x="776" y="562" width="7" height="36" fill="#000"/>
<rect x="784" y="563" width="7" height="35" fill="#000"/>
<rect x="792" y="561" width="7" height="37" fill="#000"/>
<rect x="800" y="560" width="7" height="38" fill="#000"/>
<rect x="808" y="556" width="7" height="42" fill="#000"/>
<rect x="816" y="555" width="7" height="43" fill="#000"/>
<rect x="824" y="556" width="7" height="42" fill="#000"/>
<rect x="832" y="557" width="7" height="41" fill="#000"/>
<rect x="840" y="556" width="7" height="42" fill="#000"/>
<rect x="848" y="551" width="7" height="47" fill="#000"/>
<rect x="856" y="551" width="7" height="47" fill="#000"/>
<rect x="864" y="552" width="7" height="46" fill="#000"/>
<rect x="872" y="551" width="7" height="47" fill="#000"/>
<rect x="880" y="551" width="7" height="47" fill="#000"/>
<rect x="888" y="555" width="7" height="43" fill="#000"/>
<rect x="896" y="558" width="7" height="40" fill="#000"/>
<rect x="904" y="564" width="7" height="34" fill="#000"/>
<rect x="912" y="574" width="7" height="24" fill="#000"/>
<rect x="920" y="583" width="7" height="15" fill="#000"/>
<rect x="928" y="593" width="7" height="5" fill="#000"/>
<rect x="936" y="596" width="7" height="7" fill="#000"/>
<rect x="944" y="596" width="7" height="13" fill="#000"/>
<rect x="952" y="596" width="7" height="17" fill="#000"/>
<rect x="960" y="596" width="7" height="18" fill="#000"/>
<rect x="968" y="596" width="7" height="19" fill="#000"/>
<rect x="976" y="596" width="7" height="13" fill="#000"/>
<rect x="984" y="596" width="7" height="8" fill="#000"/>
<rect x="992" y="596" width="7" height="3" fill="#000"/>
<rect x="1000" y="595" width="7" height="3" fill="#000"/>
<rect x="1008" y="593" width="7" height="5" fill="#000"/>
<rect x="1016" y="586" width="7" height="12" fill="#000"/>
<rect x="1024" y="580" width="7" height="18" fill="#000"/>
<rect x="1032" y="574" width="7" height="24" fill="#000"/>
<rect x="1040" y="570" width="7" height="28" fill="#000"/>
<rect x="1048" y="566" width="7" height="32" fill="#000"/>
<rect x="1056" y="554" width="7" height="44" fill="#000"/>
<rect x="1064" y="549" width="7" height="49" fill="#000"/>
<rect x="1072" y="547" width="7" height="51" fill="#000"/>
<rect x="1080" y="544" width="7" height="54" fill="#000"/>
<rect x="1088" y="543" width="7" height="55" fill="#000"/>
<rect x="1096" y="540" width="7" height="58" fill="#000"/>
<rect x="1104" y="538" width="7" height="60" fill="#000"/>
<rect x="1112" y="538" width="7" height="60" fill="#000"/>
<rect x="1120" y="539" width="7" height="59" fill="#000"/>
<rect x="1128" y="538" width="7" height="60" fill="#000"/>
<rect x="1136" y="542" width="7" height="56" fill="#000"/>
<rect x="1144" y="549" width="7" height="49" fill="#000"/>
<rect x="1152" y="553" width="7" height="45" fill="#000"/>
<g stroke="#FF0000" stroke-width="3" stroke-linecap="round">
<line x1="3.5" y1="610.5" x2="11.5" y2="607.5"/>
<line x1="11.5" y1="607.5" x2="19.5" y2="604.5"/>
<line x1="19.5" y1="604.5" x2="27.5" y2="600.5"/>
<line x1="27.5" y1="600.5" x2="35.5" y2="595.5"/>
<line x1="35.5" y1="595.5" x2="43.5" y2="591.5"/>
<line x1="43.5" y1="591.5" x2="51.5" y2="586.5"/>
<line x1="51.5" y1="586.5" x2="59.5" y2="580.5"/>
<line x1="59.5" y1="580.5" x2="67.5" y2="573.5"/>
<line x1="67.5" y1="573.5" x2="75.5" y2="568.5"/>
<line x1="75.5" y1="568.5" x2="83.5" y2="564.5"/>
<line x1="83.5" y1="564.5" x2="91.5" y2="560.5"/>
<line x1="91.5" y1="560.5" x2="99.5" y2="559.5"/>
<line x1="99.5" y1="559.5" x2="107.5" y2="558.5"/>
<line x1="107.5" y1="558.5" x2="115.5" y2="558.5"/>
<line x1="115.5" y1="558.5" x2="123.5" y2="559.5"/>
<line x1="123.5" y1="559.5" x2="131.5" y2="561.5"/>
<line x1="131.5" y1="561.5" x2="139.5" y2="563.5"/>
<line x1="139.5" y1="563.5" x2="147.5" y2="565.5"/>
<line x1="147.5" y1="565.5" x2="155.5" y2="567.5"/>
<line x1="155.5" y1="567.5" x2="163.5" y2="568.5"/>
<line x1="163.5" y1="568.5" x2="171.5" y2="568.5"/>
<line x1="171.5" y1="568.5" x2="179.5" y2="568.5"/>
<line x1="179.5" y1="568.5" x2="187.5" y2="568.5"/>
<line x1="187.5" y1="568.5" x2="195.5" y2="568.5"/>
<line x1="195.5" y1="568.5" x2="203.5" y2="566.5"/>
<line x1="203.5" y1="566.5" x2="211.5" y2="565.5"/>
<line x1="211.5" y1="565.5" x2="219.5" y2="564.5"/>
<line x1="219.5" y1="564.5" x2="227.5" y2="563.5"/>
<line x1="227.5" y1="563.5" x2="235.5" y2="562.5"/>
<line x1="235.5" y1="562.5" x2="243.5" y2="563.5"/>
<line x1="243.5" y1="563.5" x2="251.5" y2="565.5"/>
<line x1="251.5" y1="565.5" x2="259.5" y2="570.5"/>
<line x1="259.5" y1="570.5" x2="267.5" y2="575.5"/>
<line x1="267.5" y1="575.5" x2="275.5" y2="582.5"/>
<line x1="275.5" y1="582.5" x2="283.5" y2="589.5"/>
<line x1="283.5" y1="589.5" x2="291.5" y2="596.5"/>
<line x1="291.5" y1="596.5" x2="299.5" y2="604.5"/>
<line x1="299.5" y1="604.5" x2="307.5" y2="611.5"/>
<line x1="307.5" y1="611.5" x2="315.5" y2="617.5"/>
<line x1="315.5" y1="617.5" x2="323.5" y2="621.5"/>
<line x1="323.5" y1="621.5" x2="331.5" y2="624.5"/>
<line x1="331.5" y1="624.5" x2="339.5" y2="626.5"/>
<line x1="339.5" y1="626.5" x2="347.5" y2="629.5"/>
<line x1="347.5" y1="629.5" x2="355.5" y2="631.5"/>
<line x1="355.5" y1="631.5" x2="363.5" y2="634.5"/>
<line x1="363.5" y1="634.5" x2="371.5" y2="637.5"/>
<line x1="371.5" y1="637.5" x2="379.5" y2="640.5"/>
<line x1="379.5" y1="640.5" x2="387.5" y2="642.5"/>
<line x1="387.5" y1="642.5" x2="395.5" y2="645.5"/>
<line x1="395.5" y1="645.5" x2="403.5" y2="648.5"/>
<line x1="403.5" y1="648.5" x2="411.5" y2="650.5"/>
<line x1="411.5" y1="650.5" x2="419.5" y2="652.5"/>
<line x1="419.5" y1="652.5" x2="427.5" y2="654.5"/>
<line x1="427.5" y1="654.5" x2="435.5" y2="656.5"/>
<line x1="435.5" y1="656.5" x2="443.5" y2="658.5"/>
<line x1="443.5" y1="658.5" x2="451.5" y2="660.5"/>
<line x1="451.5" y1="660.5" x2="459.5" y2="663.5"/>
<line x1="459.5" y1="663.5" x2="467.5" y2="664.5"/>
<line x1="467.5" y1="664.5" x2="475.5" y2="665.5"/>
<line x1="475.5" y1="665.5" x2="483.5" y2="665.5"/>
<line x1="483.5" y1="665.5" x2="491.5" y2="664.5"/>
<line x1="491.5" y1="664.5" x2="499.5" y2="663.5"/>
<line x1="499.5" y1="663.5" x2="507.5" y2="660.5"/>
<line x1="507.5" y1="660.5" x2="515.5" y2="657.5"/>
<line x1="515.5" y1="657.5" x2="523.5" y2="653.5"/>
<line x1="523.5" y1="653.5" x2="531.5" y2="649.5"/>
<line x1="531.5" y1="649.5" x2="539.5" y2="644.5"/>
<line x1="539.5" y1="644.5" x2="547.5" y2="641.5"/>
<line x1="547.5" y1="641.5" x2="555.5" y2="637.5"/>
<line x1="555.5" y1="637.5" x2="563.5" y2="635.5"/>
<line x1="563.5" y1="635.5" x2="571.5" y2="633.5"/>
<line x1="571.5" y1="633.5" x2="579.5" y2="631.5"/>
<line x1="579.5" y1="631.5" x2="587.5" y2="630.5"/>
<line x1="587.5" y1="630.5" x2="595.5" y2="629.5"/>
<line x1="595.5" y1="629.5" x2="603.5" y2="628.5"/>
<line x1="603.5" y1="628.5" x2="611.5" y2="627.5"/>
<line x1="611.5" y1="627.5" x2="619.5" y2="625.5"/>
<line x1="619.5" y1="625.5" x2="627.5" y2="623.5"/>
<line x1="627.5" y1="623.5" x2="635.5" y2="621.5"/>
<line x1="635.5" y1="621.5" x2="643.5" y2="618.5"/>
<line x1="643.5" y1="618.5" x2="651.5" y2="614.5"/>
<line x1="651.5" y1="614.5" x2="659.5" y2="611.5"/>
<line x1="659.5" y1="611.5" x2="667.5" y2="608.5"/>
<line x1="667.5" y1="608.5" x2="675.5" y2="605.5"/>
<line x1="675.5" y1="605.5" x2="683.5" y2="601.5"/>
<line x1="683.5" y1="601.5" x2="691.5" y2="598.5"/>
<line x1="691.5" y1="598.5" x2="699.5" y2="594.5"/>
<line x1="699.5" y1="594.5" x2="707.5" y2="589.5"/>
<line x1="707.5" y1="589.5" x2="715.5" y2="585.5"/>
<line x1="715.5" y1="585.5" x2="723.5" y2="581.5"/>
<line x1="723.5" y1="581.5" x2="731.5" y2="578.5"/>
<line x1="731.5" y1="578.5" x2="739.5" y2="574.5"/>
<line x1="739.5" y1="574.5" x2="747.5" y2="571.5"/>
<line x1="747.5" y1="571.5" x2="755.5" y2="568.5"/>
<line x1="755.5" y1="568.5" x2="763.5" y2="566.5"/>
<line x1="763.5" y1="566.5" x2="771.5" y2="564.5"/>
<line x1="771.5" y1="564.5" x2="779.5" y2="563.5"/>
<line x1="779.5" y1="563.5" x2="787.5" y2="563.5"/>
<line x1="787.5" y1="563.5" x2="795.5" y2="563.5"/>
<line x1="795.5" y1="563.5" x2="803.5" y2="562.5"/>
<line x1="803.5" y1="562.5" x2="811.5" y2="561.5"/>
<line x1="811.5" y1="561.5" x2="819.5" y2="560.5"/>
<line x1="819.5" y1="560.5" x2="827.5" y2="559.5"/>
<line x1="827.5" y1="559.5" x2="835.5" y2="559.5"/>
<line x1="835.5" y1="559.5" x2="843.5" y2="558.5"/>
<line x1="843.5" y1="558.5" x2="851.5" y2="557.5"/>
<line x1="851.5" y1="557.5" x2="859.5" y2="555.5"/>
<line x1="859.5" y1="555.5" x2="867.5" y2="554.5"/>
<line x1="867.5" y1="554.5" x2="875.5" y2="553.5"/>
<line x1="875.5" y1="553.5" x2="883.5" y2="553.5"/>
<line x1="883.5" y1="553.5" x2="891.5" y2="553.5"/>
<line x1="891.5" y1="553.5" x2="899.5" y2="553.5"/>
<line x1="899.5" y1="553.5" x2="907.5" y2="554.5"/>
<line x1="907.5" y1="554.5" x2="915.5" y2="556.5"/>
<line x1="915.5" y1="556.5" x2="923.5" y2="559.5"/>
<line x1="923.5" y1="559.5" x2="931.5" y2="564.5"/>
<line x1="931.5" y1="564.5" x2="939.5" y2="570.5"/>
<line x1="939.5" y1="570.5" x2="947.5" y2="576.5"/>
<line x1="947.5" y1="576.5" x2="955.5" y2="583.5"/>
<line x1="955.5" y1="583.5" x2="963.5" y2="590.5"/>
<line x1="963.5" y1="590.5" x2="971.5" y2="596.5"/>
<line x1="971.5" y1="596.5" x2="979.5" y2="601.5"/>
<line x1="979.5" y1="601.5" x2="987.5" y2="604.5"/>
<line x1="987.5" y1="604.5" x2="995.5" y2="606.5"/>
<line x1="995.5" y1="606.5" x2="1003.5" y2="606.5"/>
<line x1="1003.5" y1="606.5" x2="1011.5" y2="605.5"/>
<line x1="1011.5" y1="605.5" x2="1019.5" y2="603.5"/>
<line x1="1019.5" y1="603.5" x2="1027.5" y2="599.5"/>
<line x1="1027.5" y1="599.5" x2="1035.5" y2="595.5"/>
<line x1="1035.5" y1="595.5" x2="1043.5" y2="590.5"/>
<line x1="1043.5" y1="590.5" x2="1051.5" y2="585.5"/>
<line x1="1051.5" y1="585.5" x2="1059.5" y2="579.5"/>
<line x1="1059.5" y1="579.5" x2="1067.5" y2="574.5"/>
<line x1="1067.5" y1="574.5" x2="1075.5" y2="568.5"/>
<line x1="1075.5" y1="568.5" x2="1083.5" y2="563.5"/>
<line x1="1083.5" y1="563.5" x2="1091.5" y2="558.5"/>
<line x1="1091.5" y1="558.5" x2="1099.5" y2="554.5"/>
<line x1="1099.5" y1="554.5" x2="1107.5" y2="550.5"/>
<line x1="1107.5" y1="550.5" x2="1115.5" y2="546.5"/>
<line x1="1115.5" y1="546.5" x2="1123.5" y2="543.5"/>
<line x1="1123.5" y1="543.5" x2="1131.5" y2="541.5"/>
<line x1="1131.5" y1="541.5" x2="1139.5" y2="541.5"/>
<line x1="1139.5" y1="541.5" x2="1147.5" y2="541.5"/>
<line x1="1147.5" y1="541.5" x2="1155.5" y2="542.5"/>
</g>
<rect x="3" y="596" width="1175" height="2" fill="#000"/>
</g>
<rect x="1178" y="596" width="2" height="2" fill="#000"/>
<g clip-path="url(#crsi)">
<line x1="4" y1="718.5" x2="1178" y2="718.5" stroke="#C0C0C0" stroke-width="1" stroke-dasharray="3,3" shape-rendering="crispEdges"/>
<line x1="4" y1="768.5" x2="1178" y2="768.5" stroke="#C0C0C0" stroke-width="1" stroke-dasharray="3,3" shape-rendering="crispEdges"/>
<g stroke="#1E90FF" stroke-width="2" stroke-linecap="round">
<line x1="3.5" y1="742" x2="11.5" y2="724"/>
<line x1="11.5" y1="724" x2="19.5" y2="724"/>
<line x1="19.5" y1="724" x2="27.5" y2="722"/>
<line x1="27.5" y1="722" x2="35.5" y2="720"/>
<line x1="35.5" y1="720" x2="43.5" y2="716"/>
<line x1="43.5" y1="716" x2="51.5" y2="713"/>
<line x1="51.5" y1="713" x2="59.5" y2="713"/>
<line x1="59.5" y1="713" x2="67.5" y2="727"/>
<line x1="67.5" y1="727" x2="75.5" y2="727"/>
<line x1="75.5" y1="727" x2="83.5" y2="735"/>
<line x1="83.5" y1="735" x2="91.5" y2="732"/>
<line x1="91.5" y1="732" x2="99.5" y2="740"/>
<line x1="99.5" y1="740" x2="107.5" y2="734"/>
<line x1="107.5" y1="734" x2="115.5" y2="736"/>
<line x1="115.5" y1="736" x2="123.5" y2="742"/>
<line x1="123.5" y1="742" x2="131.5" y2="736"/>
<line x1="131.5" y1="736" x2="139.5" y2="736"/>
<line x1="139.5" y1="736" x2="147.5" y2="732"/>
<line x1="147.5" y1="732" x2="155.5" y2="730"/>
<line x1="155.5" y1="730" x2="163.5" y2="729"/>
<line x1="163.5" y1="729" x2="171.5" y2="728"/>
<line x1="171.5" y1="728" x2="179.5" y2="727"/>
<line x1="179.5" y1="727" x2="187.5" y2="727"/>
<line x1="187.5" y1="727" x2="195.5" y2="721"/>
<line x1="195.5" y1="721" x2="203.5" y2="727"/>
<line x1="203.5" y1="727" x2="211.5" y2="725"/>
<line x1="211.5" y1="725" x2="219.5" y2="725"/>
<line x1="219.5" y1="725" x2="227.5" y2="728"/>
<line x1="227.5" y1="728" x2="235.5" y2="728"/>
<line x1="235.5" y1="728" x2="243.5" y2="756"/>
<line x1="243.5" y1="756" x2="251.5" y2="766"/>
<line x1="251.5" y1="766" x2="259.5" y2="766"/>
<line x1="259.5" y1="766" x2="267.5" y2="765"/>
<line x1="267.5" y1="765" x2="275.5" y2="761"/>
<line x1="275.5" y1="761" x2="283.5" y2="761"/>
<line x1="283.5" y1="761" x2="291.5" y2="751"/>
<line x1="291.5" y1="751" x2="299.5" y2="756"/>
<line x1="299.5" y1="756" x2="307.5" y2="751"/>
<line x1="307.5" y1="751" x2="315.5" y2="751"/>
<line x1="315.5" y1="751" x2="323.5" y2="754"/>
<line x1="323.5" y1="754" x2="331.5" y2="757"/>
<line x1="331.5" y1="757" x2="339.5" y2="766"/>
<line x1="339.5" y1="766" x2="347.5" y2="768"/>
<line x1="347.5" y1="768" x2="355.5" y2="769"/>
<line x1="355.5" y1="769" x2="363.5" y2="765"/>
<line x1="363.5" y1="765" x2="371.5" y2="759"/>
<line x1="371.5" y1="759" x2="379.5" y2="759"/>
<line x1="379.5" y1="759" x2="387.5" y2="760"/>
<line x1="387.5" y1="760" x2="395.5" y2="765"/>
<line x1="395.5" y1="765" x2="403.5" y2="769"/>
<line x1="403.5" y1="769" x2="411.5" y2="772"/>
<line x1="411.5" y1="772" x2="419.5" y2="772"/>
<line x1="419.5" y1="772" x2="427.5" y2="774"/>
<line x1="427.5" y1="774" x2="435.5" y2="773"/>
<line x1="435.5" y1="773" x2="443.5" y2="774"/>
<line x1="443.5" y1="774" x2="451.5" y2="776"/>
<line x1="451.5" y1="776" x2="459.5" y2="768"/>
<line x1="459.5" y1="768" x2="467.5" y2="768"/>
<line x1="467.5" y1="768" x2="475.5" y2="761"/>
<line x1="475.5" y1="761" x2="483.5" y2="761"/>
<line x1="483.5" y1="761" x2="491.5" y2="763"/>
<line x1="491.5" y1="763" x2="499.5" y2="754"/>
<line x1="499.5" y1="754" x2="507.5" y2="751"/>
<line x1="507.5" y1="751" x2="515.5" y2="748"/>
<line x1="515.5" y1="748" x2="523.5" y2="747"/>
<line x1="523.5" y1="747" x2="531.5" y2="750"/>
<line x1="531.5" y1="750" x2="539.5" y2="755"/>
<line x1="539.5" y1="755" x2="547.5" y2="760"/>
<line x1="547.5" y1="760" x2="555.5" y2="764"/>
<line x1="555.5" y1="764" x2="563.5" y2="765"/>
<line x1="563.5" y1="765" x2="571.5" y2="756"/>
<line x1="571.5" y1="756" x2="579.5" y2="754"/>
<line x1="579.5" y1="754" x2="587.5" y2="753"/>
<line x1="587.5" y1="753" x2="595.5" y2="754"/>
<line x1="595.5" y1="754" x2="603.5" y2="745"/>
<line x1="603.5" y1="745" x2="611.5" y2="744"/>
<line x1="611.5" y1="744" x2="619.5" y2="744"/>
<line x1="619.5" y1="744" x2="627.5" y2="742"/>
<line x1="627.5" y1="742" x2="635.5" y2="741"/>
<line x1="635.5" y1="741" x2="643.5" y2="737"/>
<line x1="643.5" y1="737" x2="651.5" y2="730"/>
<line x1="651.5" y1="730" x2="659.5" y2="730"/>
<line x1="659.5" y1="730" x2="667.5" y2="741"/>
<line x1="667.5" y1="741" x2="675.5" y2="735"/>
<line x1="675.5" y1="735" x2="683.5" y2="722"/>
<line x1="683.5" y1="722" x2="691.5" y2="722"/>
<line x1="691.5" y1="722" x2="699.5" y2="719"/>
<line x1="699.5" y1="719" x2="707.5" y2="713"/>
<line x1="707.5" y1="713" x2="715.5" y2="722"/>
<line x1="715.5" y1="722" x2="723.5" y2="724"/>
<line x1="723.5" y1="724" x2="731.5" y2="729"/>
<line x1="731.5" y1="729" x2="739.5" y2="727"/>
<line x1="739.5" y1="727" x2="747.5" y2="727"/>
<line x1="747.5" y1="727" x2="755.5" y2="724"/>
<line x1="755.5" y1="724" x2="763.5" y2="717"/>
<line x1="763.5" y1="717" x2="771.5" y2="734"/>
<line x1="771.5" y1="734" x2="779.5" y2="729"/>
<line x1="779.5" y1="729" x2="787.5" y2="728"/>
<line x1="787.5" y1="728" x2="795.5" y2="726"/>
<line x1="795.5" y1="726" x2="803.5" y2="725"/>
<line x1="803.5" y1="725" x2="811.5" y2="719"/>
<line x1="811.5" y1="719" x2="819.5" y2="721"/>
<line x1="819.5" y1="721" x2="827.5" y2="729"/>
<line x1="827.5" y1="729" x2="835.5" y2="729"/>
<line x1="835.5" y1="729" x2="843.5" y2="723"/>
<line x1="843.5" y1="723" x2="851.5" y2="717"/>
<line x1="851.5" y1="717" x2="859.5" y2="726"/>
<line x1="859.5" y1="726" x2="867.5" y2="726"/>
<line x1="867.5" y1="726" x2="875.5" y2="724"/>
<line x1="875.5" y1="724" x2="883.5" y2="724"/>
<line x1="883.5" y1="724" x2="891.5" y2="727"/>
<line x1="891.5" y1="727" x2="899.5" y2="741"/>
<line x1="899.5" y1="741" x2="907.5" y2="743"/>
<line x1="907.5" y1="743" x2="915.5" y2="754"/>
<line x1="915.5" y1="754" x2="923.5" y2="758"/>
<line x1="923.5" y1="758" x2="931.5" y2="761"/>
<line x1="931.5" y1="761" x2="939.5" y2="762"/>
<line x1="939.5" y1="762" x2="947.5" y2="761"/>
<line x1="947.5" y1="761" x2="955.5" y2="756"/>
<line x1="955.5" y1="756" x2="963.5" y2="753"/>
<line x1="963.5" y1="753" x2="971.5" y2="752"/>
<line x1="971.5" y1="752" x2="979.5" y2="737"/>
<line x1="979.5" y1="737" x2="987.5" y2="737"/>
<line x1="987.5" y1="737" x2="995.5" y2="733"/>
<line x1="995.5" y1="733" x2="1003.5" y2="733"/>
<line x1="1003.5" y1="733" x2="1011.5" y2="736"/>
<line x1="1011.5" y1="736" x2="1019.5" y2="727"/>
<line x1="1019.5" y1="727" x2="1027.5" y2="724"/>
<line x1="1027.5" y1="724" x2="1035.5" y2="722"/>
<line x1="1035.5" y1="722" x2="1043.5" y2="723"/>
<line x1="1043.5" y1="723" x2="1051.5" y2="722"/>
<line x1="1051.5" y1="722" x2="1059.5" y2="711"/>
<line x1="1059.5" y1="711" x2="1067.5" y2="722"/>
<line x1="1067.5" y1="722" x2="1075.5" y2="722"/>
<line x1="1075.5" y1="722" x2="1083.5" y2="722"/>
<line x1="1083.5" y1="722" x2="1091.5" y2="722"/>
<line x1="1091.5" y1="722" x2="1099.5" y2="719"/>
<line x1="1099.5" y1="719" x2="1107.5" y2="718"/>
<line x1="1107.5" y1="718" x2="1115.5" y2="722"/>
<line x1="1115.5" y1="722" x2="1123.5" y2="722"/>
<line x1="1123.5" y1="722" x2="1131.5" y2="719"/>
<line x1="1131.5" y1="719" x2="1139.5" y2="735"/>
<line x1="1139.5" y1="735" x2="1147.5" y2="737"/>
<line x1="1147.5" y1="737" x2="1155.5" y2="736"/>
</g>
</g>
<rect x="2" y="2" width="1177" height="1" fill="#000"/>
<rect x="2" y="528" width="1177" height="1" fill="#000"/>
<rect x="2" y="2" width="1" height="527" fill="#000"/>
<rect x="1178" y="2" width="1" height="527" fill="#000"/>
<rect x="2" y="530" width="1177" height="1" fill="#000"/>
<rect x="2" y="677" width="1177" height="1" fill="#000"/>
<rect x="2" y="530" width="1" height="148" fill="#000"/>
<rect x="1178" y="530" width="1" height="148" fill="#000"/>
<rect x="2" y="679" width="1177" height="1" fill="#000"/>
<rect x="2" y="806" width="1177" height="1" fill="#000"/>
<rect x="2" y="679" width="1" height="128" fill="#000"/>
<rect x="1178" y="679" width="1" height="128" fill="#000"/>
<rect x="1179" y="19" width="2" height="1" fill="#000"/>
<text x="1185.6" y="24" fill="#000" font-size="12" textLength="45" lengthAdjust="spacingAndGlyphs" >0.66530</text>
<rect x="1179" y="68" width="2" height="1" fill="#000"/>
<text x="1185.6" y="73" fill="#000" font-size="12" textLength="45" lengthAdjust="spacingAndGlyphs" >0.66240</text>
<rect x="1179" y="117" width="2" height="1" fill="#000"/>
<text x="1185.6" y="122" fill="#000" font-size="12" textLength="45" lengthAdjust="spacingAndGlyphs" >0.65950</text>
<rect x="1179" y="166" width="2" height="1" fill="#000"/>
<text x="1185.6" y="171" fill="#000" font-size="12" textLength="45" lengthAdjust="spacingAndGlyphs" >0.65665</text>
<rect x="1179" y="215" width="2" height="1" fill="#000"/>
<text x="1185.6" y="220" fill="#000" font-size="12" textLength="45" lengthAdjust="spacingAndGlyphs" >0.65375</text>
<rect x="1179" y="264" width="2" height="1" fill="#000"/>
<text x="1185.6" y="269" fill="#000" font-size="12" textLength="45" lengthAdjust="spacingAndGlyphs" >0.65090</text>
<rect x="1179" y="313" width="2" height="1" fill="#000"/>
<text x="1185.6" y="318" fill="#000" font-size="12" textLength="45" lengthAdjust="spacingAndGlyphs" >0.64800</text>
<rect x="1179" y="362" width="2" height="1" fill="#000"/>
<text x="1185.6" y="367" fill="#000" font-size="12" textLength="45" lengthAdjust="spacingAndGlyphs" >0.64510</text>
<rect x="1179" y="411" width="2" height="1" fill="#000"/>
<text x="1185.6" y="416" fill="#000" font-size="12" textLength="45" lengthAdjust="spacingAndGlyphs" >0.64225</text>
<rect x="1179" y="460" width="2" height="1" fill="#000"/>
<text x="1185.6" y="465" fill="#000" font-size="12" textLength="45" lengthAdjust="spacingAndGlyphs" >0.63935</text>
<rect x="1179" y="509" width="2" height="1" fill="#000"/>
<text x="1185.6" y="514" fill="#000" font-size="12" textLength="45" lengthAdjust="spacingAndGlyphs" >0.63650</text>
<rect x="1180" y="34" width="56" height="14" fill="#FF8C00"/>
<text x="1185.6" y="46" fill="#FFF" font-size="12" textLength="45" lengthAdjust="spacingAndGlyphs" >0.66406</text>
<rect x="1180" y="91" width="56" height="14" fill="#000000"/>
<text x="1185.6" y="103" fill="#FFF" font-size="12" textLength="45" lengthAdjust="spacingAndGlyphs" >0.66065</text>
<rect x="1180" y="126" width="56" height="14" fill="#FF0000"/>
<text x="1185.6" y="138" fill="#FFF" font-size="12" textLength="45" lengthAdjust="spacingAndGlyphs" >0.65865</text>
<rect x="1180" y="187" width="56" height="14" fill="#FF0000"/>
<text x="1185.6" y="199" fill="#FFF" font-size="12" textLength="45" lengthAdjust="spacingAndGlyphs" >0.65500</text>
<rect x="1180" y="273" width="56" height="14" fill="#FF0000"/>
<text x="1185.6" y="285" fill="#FFF" font-size="12" textLength="45" lengthAdjust="spacingAndGlyphs" >0.65000</text>
<rect x="1180" y="307" width="56" height="14" fill="#FF0000"/>
<text x="1185.6" y="319" fill="#FFF" font-size="12" textLength="45" lengthAdjust="spacingAndGlyphs" >0.64802</text>
<rect x="1179" y="532" width="2" height="1" fill="#000"/>
<text x="1182.3" y="544" fill="#000" font-size="12" textLength="52" lengthAdjust="spacingAndGlyphs" >0.003314</text>
<rect x="1180" y="590" width="9" height="14" fill="#000"/>
<text x="1182.3" y="602" fill="#9fd0ff" font-size="12" textLength="6.5" lengthAdjust="spacingAndGlyphs" >0</text>
<text x="1188.8" y="602" fill="#000" font-size="12" textLength="17.5" lengthAdjust="spacingAndGlyphs" >.00</text>
<text x="1182.3" y="674" fill="#000" font-size="12" textLength="56" lengthAdjust="spacingAndGlyphs" >-0.004018</text>
<rect x="1179" y="681" width="2" height="1" fill="#000"/>
<text x="1182.8" y="693" fill="#000" font-size="12" textLength="19.5" lengthAdjust="spacingAndGlyphs" >100</text>
<text x="1181.2" y="723" fill="#000" font-size="12" textLength="13.2" lengthAdjust="spacingAndGlyphs" >70</text>
<text x="1181.2" y="773" fill="#000" font-size="12" textLength="13.2" lengthAdjust="spacingAndGlyphs" >30</text>
<text x="1182.8" y="803" fill="#000" font-size="12" textLength="6.6" lengthAdjust="spacingAndGlyphs" >0</text>
<rect x="3" y="807" width="1" height="3" fill="#000"/>
<text x="2.3" y="822" fill="#000" font-size="12" textLength="61" lengthAdjust="spacingAndGlyphs" >3 Apr 2024</text>
<rect x="99" y="807" width="1" height="3" fill="#000"/>
<text x="98.3" y="822" fill="#000" font-size="12" textLength="65" lengthAdjust="spacingAndGlyphs" >5 Apr 12:00</text>
<rect x="195" y="807" width="1" height="3" fill="#000"/>
<text x="194.3" y="822" fill="#000" font-size="12" textLength="65" lengthAdjust="spacingAndGlyphs" >9 Apr 12:00</text>
<rect x="291" y="807" width="1" height="3" fill="#000"/>
<text x="290.3" y="822" fill="#000" font-size="12" textLength="71.5" lengthAdjust="spacingAndGlyphs" >11 Apr 12:00</text>
<rect x="387" y="807" width="1" height="3" fill="#000"/>
<text x="386.3" y="822" fill="#000" font-size="12" textLength="71.5" lengthAdjust="spacingAndGlyphs" >15 Apr 12:00</text>
<rect x="483" y="807" width="1" height="3" fill="#000"/>
<text x="482.3" y="822" fill="#000" font-size="12" textLength="71.5" lengthAdjust="spacingAndGlyphs" >17 Apr 12:00</text>
<rect x="579" y="807" width="1" height="3" fill="#000"/>
<text x="578.3" y="822" fill="#000" font-size="12" textLength="71.5" lengthAdjust="spacingAndGlyphs" >19 Apr 12:00</text>
<rect x="675" y="807" width="1" height="3" fill="#000"/>
<text x="674.3" y="822" fill="#000" font-size="12" textLength="71.5" lengthAdjust="spacingAndGlyphs" >23 Apr 12:00</text>
<rect x="771" y="807" width="1" height="3" fill="#000"/>
<text x="770.3" y="822" fill="#000" font-size="12" textLength="71.5" lengthAdjust="spacingAndGlyphs" >25 Apr 12:00</text>
<rect x="867" y="807" width="1" height="3" fill="#000"/>
<text x="866.3" y="822" fill="#000" font-size="12" textLength="71.5" lengthAdjust="spacingAndGlyphs" >29 Apr 12:00</text>
<rect x="963" y="807" width="1" height="3" fill="#000"/>
<text x="962.3" y="822" fill="#000" font-size="12" textLength="67.5" lengthAdjust="spacingAndGlyphs" >1 May 12:00</text>
<rect x="1059" y="807" width="1" height="3" fill="#000"/>
<text x="1058.3" y="822" fill="#000" font-size="12" textLength="67.5" lengthAdjust="spacingAndGlyphs" >3 May 12:00</text>
<rect x="1155" y="807" width="1" height="3" fill="#000"/>
<text x="1154.3" y="822" fill="#000" font-size="12" textLength="67.5" lengthAdjust="spacingAndGlyphs" >7 May 12:00</text>
<polygon points="6,10 15,10 10.5,14.8" fill="#000"/>
<text x="21.5" y="17" fill="#000" font-size="12" textLength="64.5" lengthAdjust="spacingAndGlyphs" >AUDUSD,H4</text>
<text x="95.4" y="17" fill="#000" font-size="12" textLength="45.3" lengthAdjust="spacingAndGlyphs" >0.65996</text>
<text x="145.2" y="17" fill="#000" font-size="12" textLength="45.3" lengthAdjust="spacingAndGlyphs" >0.66092</text>
<text x="195.2" y="17" fill="#000" font-size="12" textLength="45.3" lengthAdjust="spacingAndGlyphs" >0.65925</text>
<text x="245.2" y="17" fill="#000" font-size="12" textLength="45.3" lengthAdjust="spacingAndGlyphs" >0.66065</text>
<text x="7.4" y="546" fill="#000" font-size="12" textLength="84.7" lengthAdjust="spacingAndGlyphs" >MACD(12,26,9)</text>
<text x="96.5" y="546" fill="#000" font-size="12" textLength="51.4" lengthAdjust="spacingAndGlyphs" >0.002220</text>
<text x="153.2" y="546" fill="#000" font-size="12" textLength="52.3" lengthAdjust="spacingAndGlyphs" >0.002759</text>
<text x="7.5" y="695" fill="#000" font-size="12" textLength="40.8" lengthAdjust="spacingAndGlyphs" >RSI(14)</text>
<text x="53.1" y="695" fill="#000" font-size="12" textLength="45.5" lengthAdjust="spacingAndGlyphs" >56.7659</text>
</svg>
</body></html>
